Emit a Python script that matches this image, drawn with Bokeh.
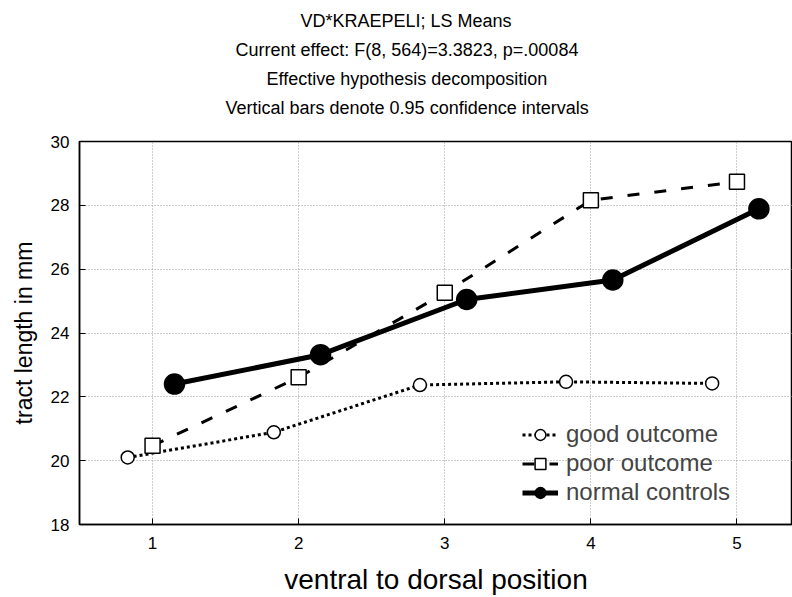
from bokeh.plotting import figure
from bokeh.models import Legend, LegendItem, Range1d, FixedTicker, Title
from bokeh.embed import file_html
from bokeh.resources import INLINE

# ---- data ----
positions = [1, 2, 3, 4, 5]
good_outcome = [20.10, 20.89, 22.37, 22.47, 22.42]
poor_outcome = [20.47, 22.61, 25.26, 28.16, 28.74]
normal_controls = [22.40, 23.32, 25.05, 25.66, 27.89]
series_names = ["good outcome", "poor outcome", "normal controls"]
title_lines = [
    "VD*KRAEPELI; LS Means",
    "Current effect: F(8, 564)=3.3823, p=.00084",
    "Effective hypothesis decomposition",
    "Vertical bars denote 0.95 confidence intervals",
]
x_ticks = [1, 2, 3, 4, 5]
y_ticks = [18, 20, 22, 24, 26, 28, 30]
x_title = "ventral to dorsal position"
y_title = "tract length in mm"

# ---- layout constants ----
offsets = [-0.17, 0.0, 0.15]
FONT = "Liberation Sans"
title_left_offsets = [221, 156, 187, 146]   # px from frame left, to centre lines at x~406

p = figure(width=792, height=597, x_range=Range1d(0.5, 5.38), y_range=Range1d(18, 30),
           output_backend="svg", toolbar_location=None, title=None,
           min_border_left=79, min_border_top=141, min_border_bottom=73, min_border_right=0)
p.background_fill_color = "white"
p.border_fill_color = "white"
p.outline_line_color = "black"
p.outline_line_width = 1.5

# blank spacer between the frame and the title block
p.add_layout(Title(text=" ", text_font_size="16px", standoff=1, text_color="white"), "above")
# innermost title line first
for t, off in reversed(list(zip(title_lines, title_left_offsets))):
    p.add_layout(Title(text=t, align="left", offset=off, standoff=7, text_font=FONT,
                       text_font_size="18px", text_font_style="normal", text_color="black"),
                 "above")

p.xaxis.ticker = FixedTicker(ticks=x_ticks)
p.yaxis.ticker = FixedTicker(ticks=y_ticks)
for ax in (p.xaxis[0], p.yaxis[0]):
    ax.axis_line_color = "black"
    ax.axis_line_width = 1.5
    ax.major_tick_out = 0
    ax.major_tick_in = 6
    ax.major_tick_line_color = "black"
    ax.minor_tick_line_color = None
    ax.major_label_text_font = FONT
    ax.major_label_text_font_size = "17px"
    ax.major_label_text_color = "black"
    ax.axis_label_text_font = FONT
    ax.axis_label_text_font_style = "normal"
    ax.axis_label_text_color = "black"
p.yaxis.major_label_standoff = 10
p.xaxis.major_label_standoff = 12
p.yaxis.axis_label = y_title
p.yaxis.axis_label_text_font_size = "23px"
p.yaxis.axis_label_standoff = 11
p.xaxis.axis_label = x_title
p.xaxis.axis_label_text_font_size = "28px"
p.xaxis.axis_label_standoff = 12

for g in (p.xgrid[0], p.ygrid[0]):
    g.grid_line_color = "#9a9a9a"
    g.grid_line_dash = "1 2"
    g.grid_line_width = 1

series = [good_outcome, poor_outcome, normal_controls]
line_styles = [dict(line_dash="3 3", line_width=3),
               dict(line_dash="12 15", line_width=3),
               dict(line_dash="solid", line_width=5)]
marker_styles = [dict(marker="circle", size=13, fill_color="white", line_color="black", line_width=1.5),
                 dict(marker="square", size=15, fill_color="white", line_color="black", line_width=1.5),
                 dict(marker="circle", size=20, fill_color="black", line_color="black", line_width=1.5)]

items = []
for name, vals, off, ls, ms in zip(series_names, series, offsets, line_styles, marker_styles):
    xs = [x + off for x in positions]
    r1 = p.line(xs, vals, line_color="black", **ls)
    r2 = p.scatter(xs, vals, **ms)
    items.append(LegendItem(label=name, renderers=[r1, r2]))

legend = Legend(items=items, location=(443, 18), background_fill_alpha=0, border_line_alpha=0,
                label_text_font=FONT, label_text_font_size="24px", glyph_width=36,
                glyph_height=27, label_height=27, spacing=1, padding=0, label_standoff=8)
p.add_layout(legend, "center")

open("out.html", "w").write(file_html(p, INLINE))
